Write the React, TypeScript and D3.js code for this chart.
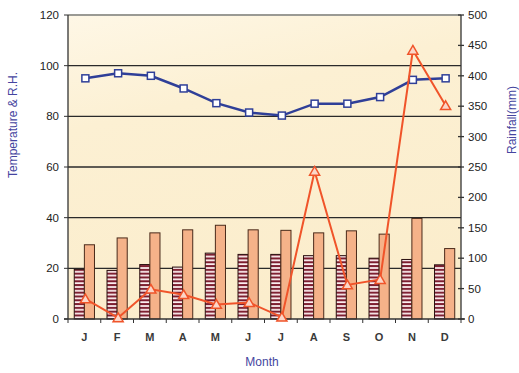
import React from "react";
import * as d3 from "d3";

// Monthly climate figures
const months = ["J", "F", "M", "A", "M", "J", "J", "A", "S", "O", "N", "D"];
const minTemp = [19.6, 19.2, 21.5, 20.5, 26, 25.5, 25.5, 25, 25, 24, 23.5, 21.4];
const maxTemp = [29.3, 32, 34, 35.2, 37, 35.2, 35, 34, 34.8, 33.5, 39.7, 27.8];
const humidity = [95, 97, 96, 91, 85.2, 81.5, 80.3, 85, 85, 87.6, 94.4, 95];
const rainfall = [33, 2, 49, 40, 24, 27, 3, 243, 56, 65, 442, 351];
const leftTicks = [0, 20, 40, 60, 80, 100, 120];
const rightTicks = [0, 50, 100, 150, 200, 250, 300, 350, 400, 450, 500];

const W = 519;
const H = 373;
const L = 68;
const R = 461;
const T = 15;
const B = 319;

export default function App() {
  const x0 = d3.scaleBand<number>().domain(d3.range(months.length)).range([L, R]);
  const x1 = d3
    .scaleBand<string>()
    .domain(["min", "max"])
    .range([0, x0.bandwidth()])
    .paddingInner(0)
    .paddingOuter(0.62);
  const yL = d3.scaleLinear().domain([0, 120]).range([B, T]);
  const yR = d3.scaleLinear().domain([0, 500]).range([B, T]);
  const cx = (i: number) => (x0(i) as number) + x0.bandwidth() / 2 + 1;

  const rhLine = d3
    .line<number>()
    .x((_, i) => cx(i))
    .y((d) => yL(d));
  const rainLine = d3
    .line<number>()
    .x((_, i) => cx(i))
    .y((d) => yR(d));

  const tri = d3.symbol().type(d3.symbolTriangle).size(44)();
  const font = "'Liberation Sans', Arial, sans-serif";

  return (
    <svg
      width={W}
      height={H}
      style={{ position: "absolute", left: 0, top: 0, background: "#fff" }}
      fontFamily={font}
    >
      <defs>
        <linearGradient id="bg" x1="0" y1="0" x2="0.3" y2="1">
          <stop offset="0" stopColor="#fef7e6" />
          <stop offset="0.35" stopColor="#fcf0d3" />
          <stop offset="1" stopColor="#fbedcc" />
        </linearGradient>
        <pattern id="hatch" width="4" height="3.8" patternUnits="userSpaceOnUse">
          <rect width="4" height="3.8" fill="#7b1a2c" />
          <rect y="1.1" width="4" height="1.8" fill="#fdf1f2" />
        </pattern>
      </defs>

      <rect x={L} y={T} width={R - L} height={B - T} fill="url(#bg)" />

      {/* horizontal gridlines */}
      {leftTicks.slice(1).map((t) => (
        <line
          key={t}
          x1={L}
          x2={R}
          y1={yL(t)}
          y2={yL(t)}
          stroke={t === 120 ? "#9a9a94" : "#2a2a2a"}
          strokeWidth={t === 120 ? 2 : 1.3}
        />
      ))}

      {/* bars */}
      {months.map((_, i) => (
        <g key={i}>
          <rect
            x={(x0(i) as number) + (x1("min") as number)}
            y={yL(minTemp[i])}
            width={x1.bandwidth()}
            height={B - yL(minTemp[i])}
            fill="url(#hatch)"
            stroke="#2a1010"
            strokeWidth={1}
          />
          <rect
            x={(x0(i) as number) + (x1("max") as number)}
            y={yL(maxTemp[i])}
            width={x1.bandwidth()}
            height={B - yL(maxTemp[i])}
            fill="#f5b289"
            stroke="#4a2a1a"
            strokeWidth={1}
          />
        </g>
      ))}

      {/* axes */}
      <line x1={L} x2={L} y1={T} y2={B} stroke="#333" strokeWidth={1.3} />
      <line x1={R} x2={R} y1={T} y2={B} stroke="#333" strokeWidth={1.3} />
      <line x1={L - 4} x2={R + 4} y1={B} y2={B} stroke="#333" strokeWidth={1.5} />

      {leftTicks.map((t) => (
        <g key={t}>
          <line x1={L - 4} x2={L} y1={yL(t)} y2={yL(t)} stroke="#333" />
          <text x={L - 9} y={yL(t)} dy="0.35em" textAnchor="end" fontSize={11.5} fill="#222">
            {t}
          </text>
        </g>
      ))}
      {rightTicks.map((t) => (
        <g key={t}>
          <line x1={R - 3} x2={R + 3} y1={yR(t)} y2={yR(t)} stroke="#333" strokeWidth={1.3} />
          <text x={R + 7} y={yR(t)} dy="0.35em" textAnchor="start" fontSize={11.5} fill="#222">
            {t}
          </text>
        </g>
      ))}
      {d3.range(months.length + 1).map((i) => {
        const xx = i < months.length ? (x0(i) as number) : R;
        return <line key={i} x1={xx} x2={xx} y1={B} y2={B + 4} stroke="#333" />;
      })}
      {months.map((m, i) => (
        <text key={i} x={cx(i) - 1} y={B + 22} textAnchor="middle" fontSize={11} fill="#3a3a3a" fontWeight="bold">
          {m}
        </text>
      ))}

      {/* relative humidity */}
      <path d={rhLine(humidity) as string} fill="none" stroke="#2f3f98" strokeWidth={2.5} />
      {humidity.map((v, i) => (
        <rect
          key={i}
          x={cx(i) - 3.5}
          y={yL(v) - 3.5}
          width={7}
          height={7}
          fill="#fff"
          stroke="#2f3f98"
          strokeWidth={1.5}
        />
      ))}

      {/* rainfall */}
      <path d={rainLine(rainfall) as string} fill="none" stroke="#f0542a" strokeWidth={2} />
      {rainfall.map((v, i) => (
        <path
          key={i}
          d={tri as string}
          transform={`translate(${cx(i)},${yR(v) + 1})`}
          fill="#fbd6c8"
          stroke="#f0542a"
          strokeWidth={1.5}
        />
      ))}

      {/* axis titles */}
      <text
        transform={`translate(17,${125}) rotate(-90)`}
        textAnchor="middle"
        fontSize={12}
        fill="#4545a0"
      >
        Temperature &amp; R.H.
      </text>
      <text
        transform={`translate(516,${120}) rotate(-90)`}
        textAnchor="middle"
        fontSize={12}
        fill="#4545a0"
      >
        Rainfall(mm)
      </text>
      <text x={262} y={366} textAnchor="middle" fontSize={12} fill="#4545a0">
        Month
      </text>
    </svg>
  );
}
